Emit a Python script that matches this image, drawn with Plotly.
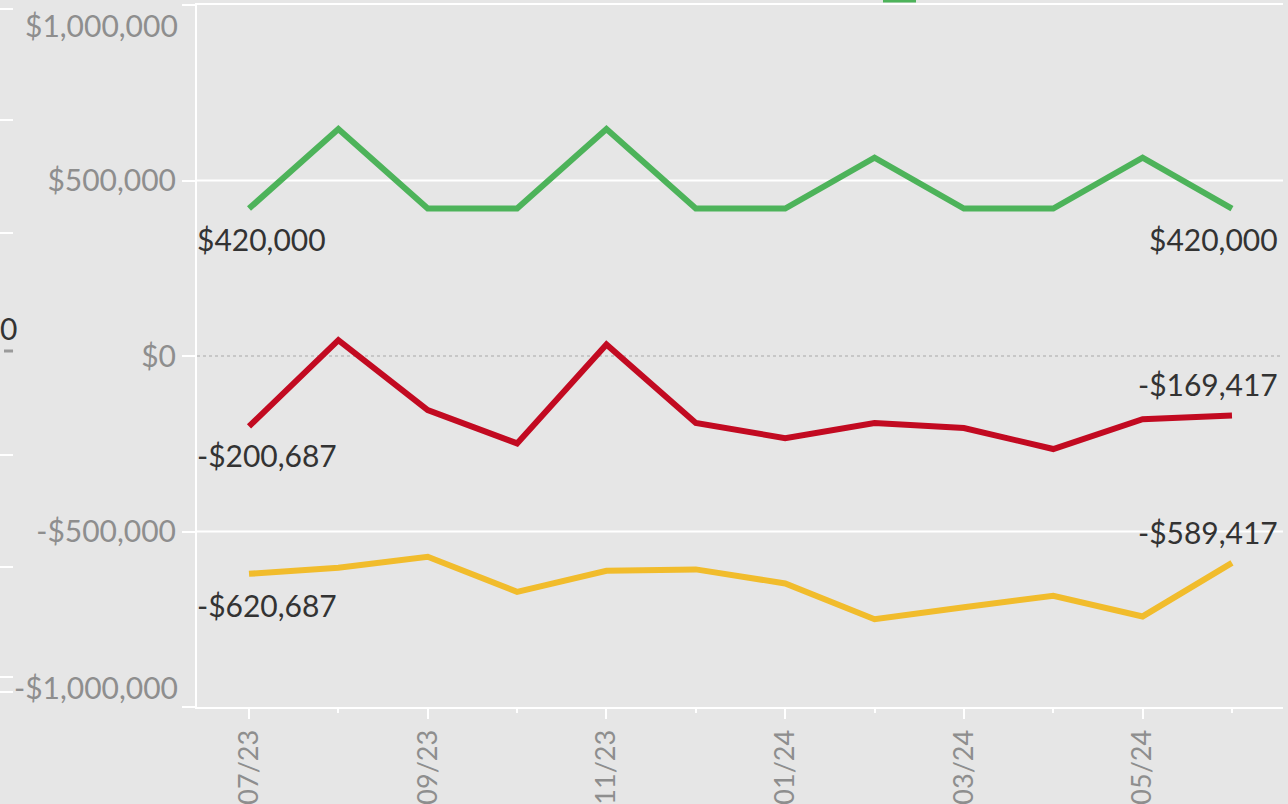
import plotly.graph_objects as go

months = ["07/23", "08/23", "09/23", "10/23", "11/23", "12/23",
          "01/24", "02/24", "03/24", "04/24", "05/24", "06/24"]
income = [420000, 647000, 420000, 420000, 647000, 420000,
          420000, 565000, 420000, 420000, 565000, 420000]
net = [-200687, 45000, -154000, -249000, 33000, -191000,
       -234000, -191000, -205000, -265000, -180000, -169417]
expenses = [-620687, -603000, -572000, -672000, -612000, -608000,
            -648000, -750000, -716000, -683000, -742000, -589417]

y_ticks = [-1000000, -500000, 0, 500000, 1000000]

GREEN = "#4DB35A"
RED = "#C20A21"
YELLOW = "#F1BC2C"
BG = "#E6E6E6"
FONT = "Lato"
FS = 30


def money(v):
    s = f"${abs(v):,.0f}"
    return "-" + s if v < 0 else s


x = list(range(len(months)))

fig = go.Figure()
for name, vals, col in [("Income", income, GREEN), ("Net", net, RED), ("Expenses", expenses, YELLOW)]:
    fig.add_trace(go.Scatter(x=x, y=vals, mode="lines", name=name,
                             line=dict(color=col, width=6), hoverinfo="x+y"))

annotations = []
for vals, start_shift, end_shift in [(income, -30, -30), (net, -29, 31), (expenses, -31, 31)]:
    annotations.append(dict(xref="paper", x=0, xanchor="left", xshift=-2,
                            y=vals[0], yref="y", yshift=start_shift, yanchor="middle",
                            text=money(vals[0]), showarrow=False,
                            font=dict(family=FONT, size=FS, color="#333333")))
    annotations.append(dict(xref="paper", x=1, xanchor="right", xshift=-3,
                            y=vals[-1], yref="y", yshift=end_shift, yanchor="middle",
                            text=money(vals[-1]), showarrow=False,
                            font=dict(family=FONT, size=FS, color="#333333")))

# extreme y labels shifted inward
for v, shift in [(y_ticks[-1], -20), (y_ticks[0], 20)]:
    annotations.append(dict(xref="paper", x=0, xanchor="right", xshift=-17,
                            y=v, yref="y", yshift=shift, yanchor="middle",
                            text=money(v), showarrow=False,
                            font=dict(family=FONT, size=FS, color="#8E8E8E")))

# neighbour panel fragment at far left
annotations.append(dict(xref="paper", x=-197 / 1086, xanchor="left", xshift=-2, yref="paper",
                        y=(707 - 328) / 702, yanchor="middle", text="0", showarrow=False,
                        font=dict(family=FONT, size=FS, color="#333333")))

shapes = []
for v in y_ticks:
    if v not in (0, y_ticks[0], y_ticks[-1]):
        shapes.append(dict(type="line", xref="paper", x0=0, x1=1, yref="y", y0=v, y1=v,
                           line=dict(color="white", width=2), layer="below"))
shapes.append(dict(type="line", xref="paper", x0=0, x1=1, yref="y", y0=0, y1=0,
                   line=dict(color="#BDBDBD", width=1.5, dash="dot"), layer="below"))
for py in [9, 120, 233, 455, 567, 677, 692]:
    shapes.append(dict(type="line", xref="paper", x0=-0.1814, x1=-0.1694,
                       yref="paper", y0=(707 - py) / 702, y1=(707 - py) / 702,
                       line=dict(color="white", width=2)))
shapes.append(dict(type="line", xref="paper", x0=-0.1777, x1=-0.1694,
                   yref="paper", y0=(707 - 351) / 702, y1=(707 - 351) / 702,
                   line=dict(color="#9A9A9A", width=3)))
# partially visible legend swatch at top
shapes.append(dict(type="rect", xref="paper", x0=(883 - 197) / 1086, x1=(916 - 197) / 1086,
                   yref="paper", y0=(707 - 2.5) / 702, y1=1.05,
                   line=dict(width=0), fillcolor=GREEN))

fig.update_layout(
    width=1288, height=804,
    margin=dict(l=197, r=5, t=5, b=97, autoexpand=False),
    paper_bgcolor=BG, plot_bgcolor=BG,
    showlegend=False,
    annotations=annotations,
    shapes=shapes,
    xaxis=dict(
        range=[-0.582, 11.571],
        tickmode="array", tickvals=x[::2], ticktext=months[::2],
        tickangle=-90, ticks="outside", ticklen=10, tickwidth=2, tickcolor="white",
        minor=dict(tickmode="array", tickvals=x[1::2], ticks="outside", ticklen=4,
                   tickwidth=2, tickcolor="white", showgrid=False),
        showgrid=False, zeroline=False,
        showline=True, linecolor="white", linewidth=2, mirror=True,
        tickfont=dict(family=FONT, size=27, color="#8E8E8E"),
    ),
    yaxis=dict(
        range=[y_ticks[0], y_ticks[-1]],
        tickmode="array", tickvals=y_ticks,
        ticktext=["" if v in (y_ticks[0], y_ticks[-1]) else money(v) for v in y_ticks],
        ticks="outside", ticklen=13, tickwidth=2, tickcolor="white",
        showgrid=False, zeroline=False,
        showline=True, linecolor="white", linewidth=2,
        tickfont=dict(family=FONT, size=FS, color="#8E8E8E"),
    ),
)

fig.write_html("out.html", config={"displayModeBar": False},
               post_script="document.body.style.margin='0';document.body.style.overflow='hidden';"
                           "document.body.style.background='" + BG + "';")
